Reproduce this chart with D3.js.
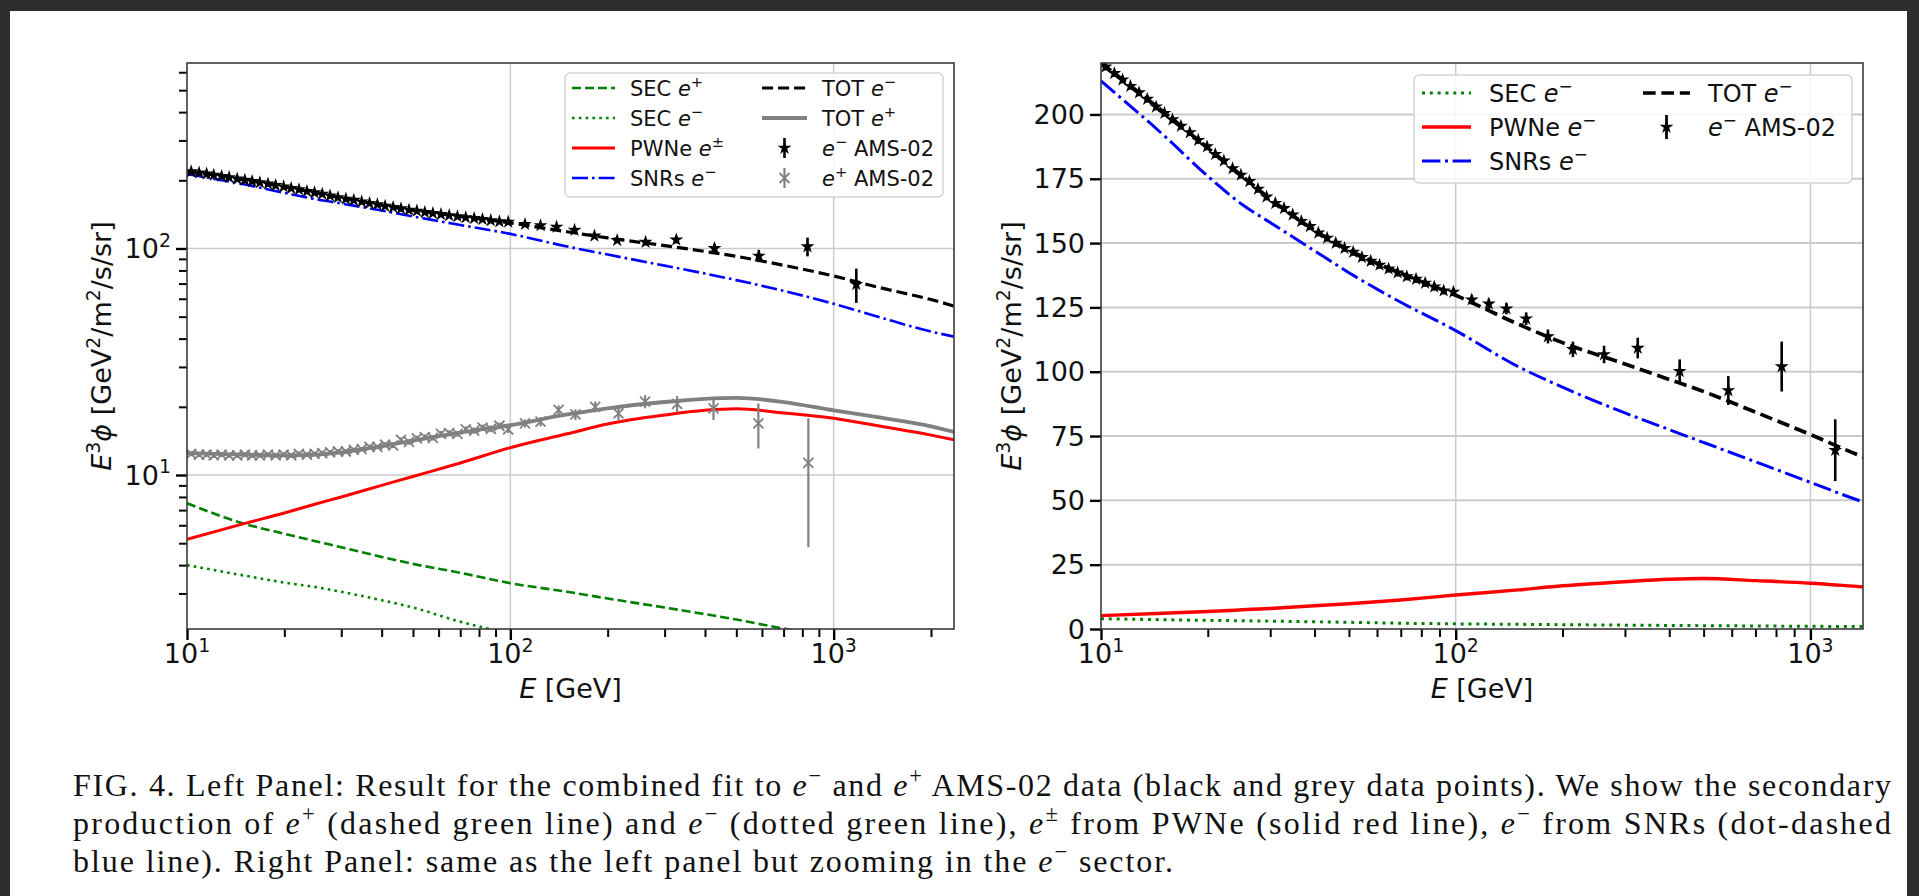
<!DOCTYPE html>
<html>
<head>
<meta charset="utf-8">
<script src="https://cdn.jsdelivr.net/npm/d3@7"></script>
<style>
  html, body { margin: 0; padding: 0; background: #2e2e2e; }
  svg { display: block; }
</style>
</head>
<body>
<svg id="fig" width="1919" height="896"></svg>
<script>
// model curves, sampled at curveE [GeV], values E^3 phi
const curveE = [10, 15, 20, 25, 30, 40, 50, 70, 100, 150, 200, 300, 400, 500, 700, 1000, 1400, 2000, 2356];
const secPos = [7.5, 6.1, 5.5, 5.1, 4.8, 4.35, 4.05, 3.7, 3.33, 3.05, 2.85, 2.6, 2.43, 2.3, 2.1, 1.93, 1.78, 1.62, 1.55];
const secEle = [4.0, 3.6, 3.35, 3.2, 3.05, 2.8, 2.6, 2.25, 2.0, 1.82, 1.68, 1.5, 1.38, 1.3, 1.18, 1.05, 0.95, 0.85, 0.8];
const pwne = [5.2, 6.1, 6.8, 7.45, 8.0, 9.0, 9.85, 11.3, 13.2, 15.2, 16.8, 18.4, 19.3, 19.6, 18.8, 17.8, 16.4, 15.0, 14.3];
const snrs = [213, 192, 176, 165, 158, 147, 138.5, 127, 116, 102, 94, 84, 77.5, 72.5, 65, 57, 49.5, 43, 40.8];
const totEle = [220, 201, 187, 176, 167.2, 155, 147.3, 138.3, 129.7, 118.5, 111.3, 103, 97, 92.3, 84.3, 75.6, 67, 59.5, 55.7];
const totPos = [12.5, 12.3, 12.2, 12.3, 12.6, 13.4, 14.2, 15.4, 16.6, 18.5, 19.7, 21.0, 21.7, 21.9, 21.0, 19.3, 17.9, 16.4, 15.5];

// AMS-02 electrons
const eleE = [10.3, 10.9, 11.5, 12.1, 12.8, 13.5, 14.3, 15.1, 15.9, 16.8, 17.8, 18.8, 19.9, 21.0, 22.2, 23.5, 24.8, 26.2, 27.7, 29.3,
  31.0, 32.8, 34.7, 36.7, 38.8, 41.0, 43.4, 45.9, 48.6, 51.4, 54.4, 57.6, 61.0, 64.7, 68.6, 72.8, 77.3, 82.0, 87.0, 92.5,
  98.5, 111, 124, 139, 158, 182, 214, 262, 326, 428, 587, 830, 1175];
const eleFlux = [218.5, 216, 213.5, 211, 208.5, 206, 203, 200.5, 198, 195.5, 193, 190, 187.5, 184.5, 182, 179, 176.5, 174, 171, 168,
  165.5, 163.5, 161, 158.5, 156.5, 154, 152, 150, 148, 146.5, 144.5, 143, 141.5, 140, 138.5, 137, 136, 134.5, 133, 131.5,
  131, 128, 126.4, 124.5, 120.6, 113.7, 108.7, 106.7, 109.2, 100.2, 92.7, 102, 69.5];
const eleErr = [1.4, 1.4, 1.4, 1.4, 1.4, 1.4, 1.4, 1.4, 1.4, 1.4, 1.4, 1.4, 1.4, 1.4, 1.4, 1.4, 1.4, 1.4, 1.4, 1.4,
  1.4, 1.4, 1.4, 1.4, 1.4, 1.4, 1.4, 1.4, 1.4, 1.4, 1.5, 1.5, 1.5, 1.5, 1.5, 1.5, 1.5, 1.5, 1.5, 1.5,
  1.6, 1.8, 2.0, 2.2, 2.4, 2.7, 3.0, 3.4, 4.0, 4.6, 5.6, 9.7, 12];

// AMS-02 positrons
const posE = [10.3, 10.9, 11.5, 12.1, 12.8, 13.5, 14.3, 15.1, 15.9, 16.8, 17.8, 18.8, 19.9, 21.0, 22.2, 23.5, 24.8, 26.2, 27.7, 29.3,
  31.0, 32.8, 34.7, 36.7, 38.8, 41.0, 43.4, 45.9, 48.6, 51.4, 54.4, 57.6, 61.0, 64.7, 68.6, 72.8, 77.3, 82.0, 87.0, 92.5,
  98.5, 111, 124, 141, 159, 183, 216, 261, 328, 425, 585, 835];
const posFlux = [12.4, 12.3, 12.3, 12.2, 12.3, 12.2, 12.2, 12.3, 12.2, 12.2, 12.3, 12.2, 12.3, 12.2, 12.4, 12.3, 12.4, 12.5, 12.6, 12.7,
  12.7, 12.9, 13.0, 13.3, 13.3, 13.6, 13.5, 14.3, 14.0, 14.5, 14.7, 14.6, 15.2, 15.3, 15.2, 15.9, 15.7, 16.2, 16.0, 16.5,
  15.9, 16.9, 17.2, 19.4, 18.5, 20.0, 18.7, 21.1, 20.6, 19.7, 16.9, 11.3];
const posErr = [0.3, 0.3, 0.3, 0.3, 0.3, 0.3, 0.3, 0.3, 0.3, 0.3, 0.3, 0.3, 0.3, 0.3, 0.3, 0.3, 0.3, 0.3, 0.3, 0.3,
  0.3, 0.3, 0.3, 0.3, 0.3, 0.35, 0.35, 0.35, 0.4, 0.4, 0.4, 0.4, 0.45, 0.45, 0.45, 0.5, 0.5, 0.5, 0.55, 0.55,
  0.6, 0.7, 0.8, 0.9, 1.0, 1.1, 1.2, 1.4, 1.7, 2.2, 3.8, 6.5];

// ticks
const leftXMajor = [10, 100, 1000];
const leftXMinor = [20, 30, 40, 50, 60, 70, 80, 90, 200, 300, 400, 500, 600, 700, 800, 900, 2000];
const leftYMajor = [10, 100];
const leftYMinor = [3, 4, 5, 6, 7, 8, 9, 20, 30, 40, 50, 60, 70, 80, 90, 200, 300, 400, 500, 600];
const rightXMajor = [10, 100, 1000];
const rightXMinor = [20, 30, 40, 50, 60, 70, 80, 90, 200, 300, 400, 500, 600, 700, 800, 900];
const rightYMajor = [0, 25, 50, 75, 100, 125, 150, 175, 200];

const MINUS = "\u2212";

const styles = {
  secPos: { color: "#008000", dash: "9,4", w: 2.6 },
  secEle: { color: "#008000", dash: "2.6,4.2", w: 2.6 },
  pwne: { color: "#ff0000", dash: null, w: 3 },
  snrs: { color: "#0000ff", dash: "16,4,2.6,4", w: 2.6 },
  totEle: { color: "#000000", dash: "11,5", w: 3.2 },
  totPos: { color: "#808080", dash: null, w: 3.8 }
};

const svg = d3.select("#fig");
svg.append("rect").attr("x", 10).attr("y", 11).attr("width", 1897).attr("height", 885).attr("fill", "#ffffff");

// text with italic / superscript pieces
function rich(sel, parts, size) {
  let shift = 0;
  parts.forEach(p => {
    const ts = sel.append("tspan").text(p[0]);
    if (p[1]) ts.attr("font-style", "italic");
    const want = p[2] ? -0.42 * size : 0;
    if (want !== shift) { ts.attr("dy", want - shift); shift = want; }
    if (p[2]) ts.attr("font-size", size * 0.7);
  });
  return sel;
}

function panel(cfg) {
  const x = d3.scaleLog().domain(cfg.xDomain).range([cfg.x0, cfg.x1]);
  const y = (cfg.logY ? d3.scaleLog() : d3.scaleLinear()).domain(cfg.yDomain).range([cfg.y1, cfg.y0]);
  const g = svg.append("g");

  g.append("clipPath").attr("id", cfg.id + "clip").append("rect")
    .attr("x", cfg.x0).attr("y", cfg.y0)
    .attr("width", cfg.x1 - cfg.x0).attr("height", cfg.y1 - cfg.y0);

  // grid
  g.append("g").selectAll("line").data(cfg.xGrid).join("line")
    .attr("x1", d => x(d)).attr("x2", d => x(d))
    .attr("y1", cfg.y0).attr("y2", cfg.y1)
    .attr("stroke", "#cbcbcb").attr("stroke-width", 1.5);
  g.append("g").selectAll("line").data(cfg.yGrid).join("line")
    .attr("x1", cfg.x0).attr("x2", cfg.x1)
    .attr("y1", d => y(d)).attr("y2", d => y(d))
    .attr("stroke", "#cbcbcb").attr("stroke-width", cfg.gridW || 1.5);

  // ticks
  const tickStyle = (sel, w) => {
    sel.select(".domain").remove();
    sel.selectAll(".tick line").attr("stroke", "#000").attr("stroke-width", w);
  };
  g.append("g").attr("transform", `translate(0,${cfg.y1})`)
    .call(d3.axisBottom(x).tickValues(cfg.xMajor).tickSize(11).tickFormat(""))
    .call(s => tickStyle(s, 2.4));
  g.append("g").attr("transform", `translate(0,${cfg.y1})`)
    .call(d3.axisBottom(x).tickValues(cfg.xMinor).tickSize(8).tickFormat(""))
    .call(s => tickStyle(s, 2));
  g.append("g").attr("transform", `translate(${cfg.x0},0)`)
    .call(d3.axisLeft(y).tickValues(cfg.yMajor).tickSize(11).tickFormat(""))
    .call(s => tickStyle(s, 2.4));
  if (cfg.yMinor) {
    g.append("g").attr("transform", `translate(${cfg.x0},0)`)
      .call(d3.axisLeft(y).tickValues(cfg.yMinor).tickSize(8).tickFormat(""))
      .call(s => tickStyle(s, 2));
  }

  // tick labels
  const fs = 27;
  cfg.xMajor.forEach(v => {
    const t = g.append("text").attr("x", x(v)).attr("y", cfg.y1 + 34)
      .attr("text-anchor", "middle").attr("font-family", "DejaVu Sans").attr("font-size", fs).attr("fill", "#111");
    rich(t, [["10"], [String(Math.round(Math.log10(v))), 0, 1]], fs);
  });
  cfg.yMajor.forEach(v => {
    const t = g.append("text").attr("x", cfg.x0 - 16).attr("y", y(v) + 9.5)
      .attr("text-anchor", "end").attr("font-family", "DejaVu Sans").attr("font-size", fs).attr("fill", "#111");
    if (cfg.logY) rich(t, [["10"], [String(Math.round(Math.log10(v))), 0, 1]], fs);
    else t.text(v);
  });

  // axis titles
  const xt = g.append("text").attr("x", (cfg.x0 + cfg.x1) / 2).attr("y", cfg.y1 + 69)
    .attr("text-anchor", "middle").attr("font-family", "DejaVu Sans").attr("font-size", fs).attr("fill", "#111");
  rich(xt, [["E", 1], [" [GeV]"]], fs);
  const yt = g.append("text")
    .attr("transform", `translate(${cfg.yTitleX},${(cfg.y0 + cfg.y1) / 2}) rotate(-90)`)
    .attr("text-anchor", "middle").attr("font-family", "DejaVu Sans").attr("font-size", fs).attr("fill", "#111");
  rich(yt, [["E", 1], ["3", 0, 1], ["\u03d5", 1], [" [GeV"], ["2", 0, 1], ["/m"], ["2", 0, 1], ["/s/sr]"]], fs);

  // curves
  const plot = g.append("g").attr("clip-path", `url(#${cfg.id}clip)`);
  const line = d3.line().x(d => x(d[0])).y(d => y(d[1])).curve(d3.curveMonotoneX);
  cfg.series.forEach(s => {
    const st = styles[s.key];
    plot.append("path")
      .datum(curveE.map((e, i) => [e, s.values[i]]))
      .attr("d", line)
      .attr("fill", "none")
      .attr("stroke", st.color)
      .attr("stroke-width", st.w * cfg.lw)
      .attr("stroke-dasharray", st.dash ? st.dash.split(",").map(v => v * cfg.lw).join(",") : null);
  });

  // data with error bars
  cfg.data.forEach(d => {
    const pts = d.E.map((e, i) => ({ e: e, v: d.v[i], err: d.err[i] }));
    const dg = plot.append("g");
    dg.selectAll("line").data(pts).join("line")
      .attr("x1", p => x(p.e)).attr("x2", p => x(p.e))
      .attr("y1", p => y(p.v - p.err)).attr("y2", p => y(p.v + p.err))
      .attr("stroke", d.color).attr("stroke-width", d.barW);
    if (d.marker === "star") {
      dg.selectAll("path").data(pts).join("path")
        .attr("transform", p => `translate(${x(p.e)},${y(p.v)})`)
        .attr("d", d3.symbol(d3.symbolStar, 60))
        .attr("fill", d.color);
    } else {
      dg.selectAll("path").data(pts).join("path")
        .attr("transform", p => `translate(${x(p.e)},${y(p.v)})`)
        .attr("d", "M-5,-5L5,5M-5,5L5,-5")
        .attr("fill", "none").attr("stroke", d.color).attr("stroke-width", 1.8);
    }
  });

  // frame
  g.append("rect").attr("x", cfg.x0).attr("y", cfg.y0)
    .attr("width", cfg.x1 - cfg.x0).attr("height", cfg.y1 - cfg.y0)
    .attr("fill", "none").attr("stroke", "#3a3a3a").attr("stroke-width", 1.6);

  // legend
  const lg = cfg.legend;
  g.append("rect").attr("x", lg.box[0]).attr("y", lg.box[1])
    .attr("width", lg.box[2] - lg.box[0]).attr("height", lg.box[3] - lg.box[1])
    .attr("rx", 5).attr("fill", "#fff").attr("fill-opacity", 0.85)
    .attr("stroke", "#d4d4d4").attr("stroke-width", 1.5);
  lg.items.forEach(it => {
    const col = lg.cols[it.col];
    const cy = lg.rows[it.row];
    if (it.key) {
      const st = styles[it.key];
      g.append("line").attr("x1", col[0]).attr("x2", col[1]).attr("y1", cy).attr("y2", cy)
        .attr("stroke", st.color).attr("stroke-width", st.w * cfg.lw)
        .attr("stroke-dasharray", st.dash ? st.dash.split(",").map(v => v * cfg.lw).join(",") : null);
    } else {
      const mx = (col[0] + col[1]) / 2;
      g.append("line").attr("x1", mx).attr("x2", mx).attr("y1", cy - lg.bar).attr("y2", cy + lg.bar)
        .attr("stroke", it.color).attr("stroke-width", it.barW);
      if (it.marker === "star") {
        g.append("path").attr("transform", `translate(${mx},${cy})`)
          .attr("d", d3.symbol(d3.symbolStar, 60)).attr("fill", it.color);
      } else {
        g.append("path").attr("transform", `translate(${mx},${cy})`)
          .attr("d", "M-5,-5L5,5M-5,5L5,-5")
          .attr("fill", "none").attr("stroke", it.color).attr("stroke-width", 1.8);
      }
    }
    const t = g.append("text").attr("x", col[2]).attr("y", cy + lg.fs * 0.36)
      .attr("font-family", "DejaVu Sans").attr("font-size", lg.fs).attr("fill", "#111");
    rich(t, it.label, lg.fs);
  });
}

const eleData = { name: "ele", E: eleE, v: eleFlux, err: eleErr, color: "#000", barW: 2.6, marker: "star" };
const posData = { name: "pos", E: posE, v: posFlux, err: posErr, color: "#808080", barW: 2.2, marker: "x" };

panel({
  id: "L", x0: 187, x1: 954, y0: 63, y1: 629,
  xDomain: [10, 2356], yDomain: [2.09, 659], logY: true, lw: 1,
  xGrid: [100, 1000], yGrid: [10, 100],
  xMajor: leftXMajor, xMinor: leftXMinor, yMajor: leftYMajor, yMinor: leftYMinor,
  yTitleX: 111,
  series: [
    { key: "secPos", values: secPos },
    { key: "secEle", values: secEle },
    { key: "pwne", values: pwne },
    { key: "snrs", values: snrs },
    { key: "totEle", values: totEle },
    { key: "totPos", values: totPos }
  ],
  data: [eleData, posData],
  legend: {
    box: [565, 73, 943, 197], fs: 21, bar: 10,
    rows: [88, 118, 148, 178],
    cols: [[572, 615, 630], [762, 807, 822]],
    items: [
      { col: 0, row: 0, key: "secPos", label: [["SEC "], ["e", 1], ["+", 0, 1]] },
      { col: 0, row: 1, key: "secEle", label: [["SEC "], ["e", 1], [MINUS, 0, 1]] },
      { col: 0, row: 2, key: "pwne", label: [["PWNe "], ["e", 1], ["\u00b1", 0, 1]] },
      { col: 0, row: 3, key: "snrs", label: [["SNRs "], ["e", 1], [MINUS, 0, 1]] },
      { col: 1, row: 0, key: "totEle", label: [["TOT "], ["e", 1], [MINUS, 0, 1]] },
      { col: 1, row: 1, key: "totPos", label: [["TOT "], ["e", 1], ["+", 0, 1]] },
      { col: 1, row: 2, color: "#000", barW: 2.6, marker: "star", label: [["e", 1], [MINUS, 0, 1], ["  AMS-02"]] },
      { col: 1, row: 3, color: "#808080", barW: 2.2, marker: "x", label: [["e", 1], ["+", 0, 1], ["  AMS-02"]] }
    ]
  }
});

panel({
  id: "R", x0: 1101, x1: 1863, y0: 63, y1: 629,
  xDomain: [10, 1407], yDomain: [0, 220], logY: false, lw: 1.15, gridW: 2,
  xGrid: [100, 1000], yGrid: [25, 50, 75, 100, 125, 150, 175, 200],
  xMajor: rightXMajor, xMinor: rightXMinor, yMajor: rightYMajor, yMinor: null,
  yTitleX: 1021,
  series: [
    { key: "secEle", values: secEle },
    { key: "pwne", values: pwne },
    { key: "snrs", values: snrs },
    { key: "totEle", values: totEle }
  ],
  data: [eleData],
  legend: {
    box: [1414, 75, 1852, 183], fs: 24, bar: 12,
    rows: [93, 127, 161],
    cols: [[1422, 1471, 1489], [1643, 1690, 1708]],
    items: [
      { col: 0, row: 0, key: "secEle", label: [["SEC "], ["e", 1], [MINUS, 0, 1]] },
      { col: 0, row: 1, key: "pwne", label: [["PWNe "], ["e", 1], [MINUS, 0, 1]] },
      { col: 0, row: 2, key: "snrs", label: [["SNRs "], ["e", 1], [MINUS, 0, 1]] },
      { col: 1, row: 0, key: "totEle", label: [["TOT "], ["e", 1], [MINUS, 0, 1]] },
      { col: 1, row: 1, color: "#000", barW: 2.8, marker: "star", label: [["e", 1], [MINUS, 0, 1], ["  AMS-02"]] }
    ]
  }
});

// caption
const capFs = 32;
const capLines = [
  { y: 796, len: 1818, parts: [["FIG. 4. Left Panel: Result for the combined fit to "], ["e", 1], [MINUS, 0, 1], [" and "], ["e", 1], ["+", 0, 1], [" AMS-02 data (black and grey data points). We show the secondary"]] },
  { y: 834, len: 1818, parts: [["production of "], ["e", 1], ["+", 0, 1], [" (dashed green line) and "], ["e", 1], [MINUS, 0, 1], [" (dotted green line), "], ["e", 1], ["\u00b1", 0, 1], [" from PWNe (solid red line), "], ["e", 1], [MINUS, 0, 1], [" from SNRs (dot-dashed"]] },
  { y: 872, len: 1100, parts: [["blue line). Right Panel: same as the left panel but zooming in the "], ["e", 1], [MINUS, 0, 1], [" sector."]] }
];
capLines.forEach(l => {
  const t = svg.append("text").attr("x", 73).attr("y", l.y)
    .attr("font-family", "Liberation Serif").attr("font-size", capFs).attr("fill", "#111")
    .attr("textLength", l.len).attr("lengthAdjust", "spacing");
  rich(t, l.parts, capFs);
});
</script>
</body>
</html>
